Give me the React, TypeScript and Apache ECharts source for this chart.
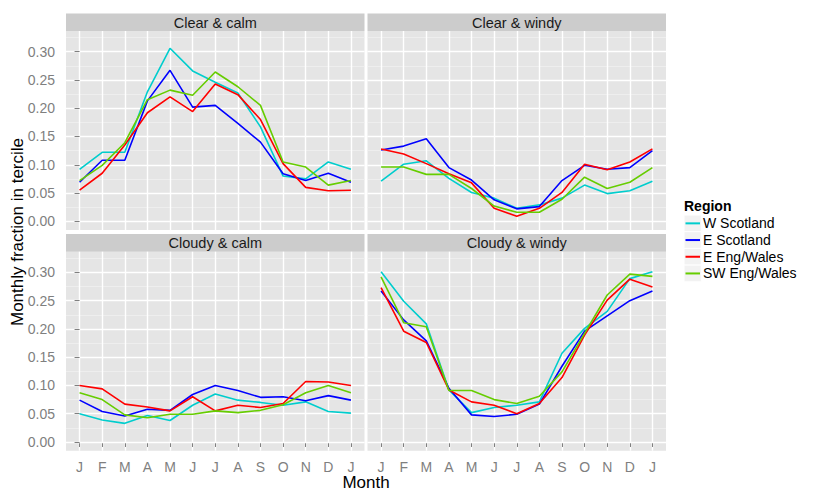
import React, { useEffect, useRef } from "react";
import * as echarts from "echarts";

const months = ["J", "F", "M", "A", "M", "J", "J", "A", "S", "O", "N", "D", "J"];
const regions = ["W Scotland", "E Scotland", "E Eng/Wales", "SW Eng/Wales"];
const regionColors = ["#00CDCD", "#0000FF", "#FF0000", "#66CD00"];
const panels = ["Clear & calm", "Clear & windy", "Cloudy & calm", "Cloudy & windy"];

const clearCalmW = [0.092, 0.122, 0.122, 0.229, 0.306, 0.266, 0.246, 0.227, 0.167, 0.080, 0.075, 0.105, 0.092];
const clearCalmE = [0.069, 0.108, 0.108, 0.213, 0.267, 0.202, 0.205, 0.173, 0.140, 0.084, 0.072, 0.085, 0.069];
const clearCalmEE = [0.055, 0.085, 0.135, 0.192, 0.220, 0.194, 0.243, 0.224, 0.180, 0.102, 0.060, 0.054, 0.055];
const clearCalmSW = [0.072, 0.099, 0.139, 0.215, 0.232, 0.223, 0.264, 0.238, 0.205, 0.105, 0.096, 0.064, 0.072];

const clearWindyW = [0.071, 0.101, 0.107, 0.076, 0.051, 0.041, 0.023, 0.029, 0.041, 0.064, 0.049, 0.054, 0.071];
const clearWindyE = [0.126, 0.133, 0.146, 0.095, 0.073, 0.038, 0.022, 0.026, 0.072, 0.099, 0.092, 0.095, 0.125];
const clearWindyEE = [0.128, 0.119, 0.102, 0.084, 0.068, 0.023, 0.009, 0.023, 0.051, 0.101, 0.091, 0.105, 0.128];
const clearWindySW = [0.096, 0.096, 0.083, 0.083, 0.058, 0.027, 0.016, 0.016, 0.039, 0.078, 0.058, 0.069, 0.095];

const cloudyCalmW = [0.050, 0.039, 0.033, 0.047, 0.038, 0.065, 0.085, 0.074, 0.070, 0.065, 0.071, 0.054, 0.051];
const cloudyCalmE = [0.074, 0.054, 0.046, 0.058, 0.056, 0.084, 0.100, 0.091, 0.079, 0.080, 0.073, 0.082, 0.074];
const cloudyCalmEE = [0.100, 0.094, 0.067, 0.062, 0.055, 0.080, 0.055, 0.065, 0.061, 0.068, 0.107, 0.106, 0.100];
const cloudyCalmSW = [0.087, 0.075, 0.048, 0.043, 0.049, 0.049, 0.055, 0.052, 0.056, 0.066, 0.087, 0.100, 0.087];

const cloudyWindyW = [0.301, 0.249, 0.209, 0.092, 0.052, 0.061, 0.065, 0.071, 0.157, 0.201, 0.231, 0.289, 0.301];
const cloudyWindyE = [0.267, 0.216, 0.179, 0.095, 0.048, 0.045, 0.049, 0.067, 0.134, 0.196, 0.223, 0.250, 0.267];
const cloudyWindyEE = [0.273, 0.196, 0.176, 0.092, 0.071, 0.065, 0.050, 0.068, 0.114, 0.189, 0.251, 0.288, 0.274];
const cloudyWindySW = [0.292, 0.211, 0.204, 0.091, 0.091, 0.075, 0.068, 0.081, 0.124, 0.192, 0.260, 0.297, 0.293];

const yTicks = [0, 0.05, 0.1, 0.15, 0.2, 0.25, 0.3];
const yMinor = [0.025, 0.075, 0.125, 0.175, 0.225, 0.275, 0.325];

const panelData = [
  [clearCalmW, clearCalmE, clearCalmEE, clearCalmSW],
  [clearWindyW, clearWindyE, clearWindyEE, clearWindySW],
  [cloudyCalmW, cloudyCalmE, cloudyCalmEE, cloudyCalmSW],
  [cloudyWindyW, cloudyWindyE, cloudyWindyEE, cloudyWindySW],
];

const FONT = "Liberation Sans, Arial, Helvetica, sans-serif";

export default function App() {
  const ref = useRef<HTMLDivElement>(null);
  useEffect(() => {
    if (!ref.current) return;
    const chart = echarts.init(ref.current, null, { renderer: "svg" });
    const colLeft = [66, 367.5];
    const panelW = 298.5;
    const rowTop = [31, 251.7];
    const panelH = 199;
    const stripTop = [13.5, 234];
    const stripH = [17.5, 17.7];
    const xIdx = months.map((_, i) => i);

    const grids: any[] = [];
    const xAxes: any[] = [];
    const yAxes: any[] = [];
    const series: any[] = [];
    const graphics: any[] = [];

    panels.forEach((name, p) => {
      const col = p % 2;
      const row = Math.floor(p / 2);
      grids.push({
        left: colLeft[col],
        top: rowTop[row],
        width: panelW,
        height: panelH,
        show: true,
        backgroundColor: "#E5E5E5",
        borderWidth: 0,
      });
      xAxes.push({
        type: "value",
        gridIndex: p,
        min: -0.6,
        max: 12.6,
        axisLine: { show: false },
        axisTick: {
          show: row === 1,
          customValues: xIdx,
          length: 5,
          lineStyle: { color: "#7F7F7F", width: 1 },
        },
        axisLabel: {
          show: row === 1,
          customValues: xIdx,
          formatter: (v: number) => months[Math.round(v)],
          color: "#7F7F7F",
          fontSize: 14,
          fontFamily: FONT,
          margin: 9,
        },
        splitLine: { show: true, lineStyle: { color: "#FFFFFF", width: 1.4 } },
      });
      yAxes.push({
        type: "value",
        gridIndex: p,
        min: -0.0154,
        max: 0.3366,
        axisLine: { show: false },
        axisTick: {
          show: col === 0,
          customValues: yTicks,
          length: 5,
          lineStyle: { color: "#7F7F7F", width: 1 },
        },
        axisLabel: {
          show: col === 0,
          customValues: yTicks,
          formatter: (v: number) => v.toFixed(2),
          color: "#7F7F7F",
          fontSize: 14,
          fontFamily: FONT,
          margin: 11,
        },
        splitLine: { show: true, lineStyle: { color: "#FFFFFF", width: 1.4 } },
        z: 1,
      });
      graphics.push({
        type: "rect",
        shape: { x: colLeft[col], y: stripTop[row], width: panelW, height: stripH[row] },
        style: { fill: "#CCCCCC" },
      });
      graphics.push({
        type: "text",
        x: colLeft[col] + panelW / 2,
        y: stripTop[row] + stripH[row] / 2 + 0.5,
        style: {
          text: name,
          fill: "#1A1A1A",
          fontSize: 14.5,
          fontFamily: FONT,
          align: "center",
          verticalAlign: "middle",
        },
      });
    });

    // minor y grid axes
    panels.forEach((_, p) => {
      yAxes.push({
        type: "value",
        gridIndex: p,
        min: -0.0154,
        max: 0.3366,
        axisLine: { show: false },
        axisTick: { show: false, customValues: yMinor },
        axisLabel: { show: false, customValues: yMinor },
        splitLine: { show: true, lineStyle: { color: "#F2F2F2", width: 0.7 } },
        z: 0,
      });
    });

    panels.forEach((_, p) => {
      regions.forEach((r, k) => {
        series.push({
          name: r,
          type: "line",
          xAxisIndex: p,
          yAxisIndex: p,
          data: panelData[p][k].map((v, i) => [xIdx[i], v]),
          showSymbol: false,
          symbol: "none",
          lineStyle: { color: regionColors[k], width: 1.6 },
          itemStyle: { color: regionColors[k] },
          z: 3,
        });
      });
    });

    // legend key backgrounds
    const legTop = 215;
    const rowH = 16.7;
    regions.forEach((_, k) => {
      graphics.push({
        type: "rect",
        shape: { x: 684, y: legTop + k * rowH, width: 17.3, height: rowH },
        style: { fill: "#F2F2F2", stroke: "#FFFFFF", lineWidth: 1 },
        z: -1,
      });
    });
    graphics.push({
      type: "text",
      x: 684,
      y: 206,
      style: {
        text: "Region",
        fill: "#000000",
        fontSize: 14,
        fontWeight: "bold",
        fontFamily: FONT,
        align: "left",
        verticalAlign: "middle",
      },
    });
    graphics.push({
      type: "text",
      x: 17.5,
      y: 232,
      rotation: Math.PI / 2,
      style: {
        text: "Monthly fraction in tercile",
        fill: "#000000",
        fontSize: 17,
        fontFamily: FONT,
        align: "center",
        verticalAlign: "middle",
      },
    });
    graphics.push({
      type: "text",
      x: 366,
      y: 482.7,
      style: {
        text: "Month",
        fill: "#000000",
        fontSize: 17,
        fontFamily: FONT,
        align: "center",
        verticalAlign: "middle",
      },
    });

    chart.setOption({
      animation: false,
      grid: grids,
      xAxis: xAxes,
      yAxis: yAxes,
      series,
      legend: {
        data: regions,
        orient: "vertical",
        left: 685.5,
        top: legTop,
        padding: 0,
        itemGap: 0,
        itemWidth: 14.5,
        itemHeight: 2,
        icon: "rect",
        textStyle: {
          fontSize: 14,
          fontFamily: FONT,
          color: "#000000",
          lineHeight: rowH,
          padding: [0, 0, 0, -2],
        },
        z: 5,
      },
      graphic: graphics,
    });
    return () => chart.dispose();
  }, []);
  return (
    <div
      ref={ref}
      style={{ position: "fixed", left: 0, top: 0, width: 830, height: 499, background: "#FFFFFF" }}
    />
  );
}
